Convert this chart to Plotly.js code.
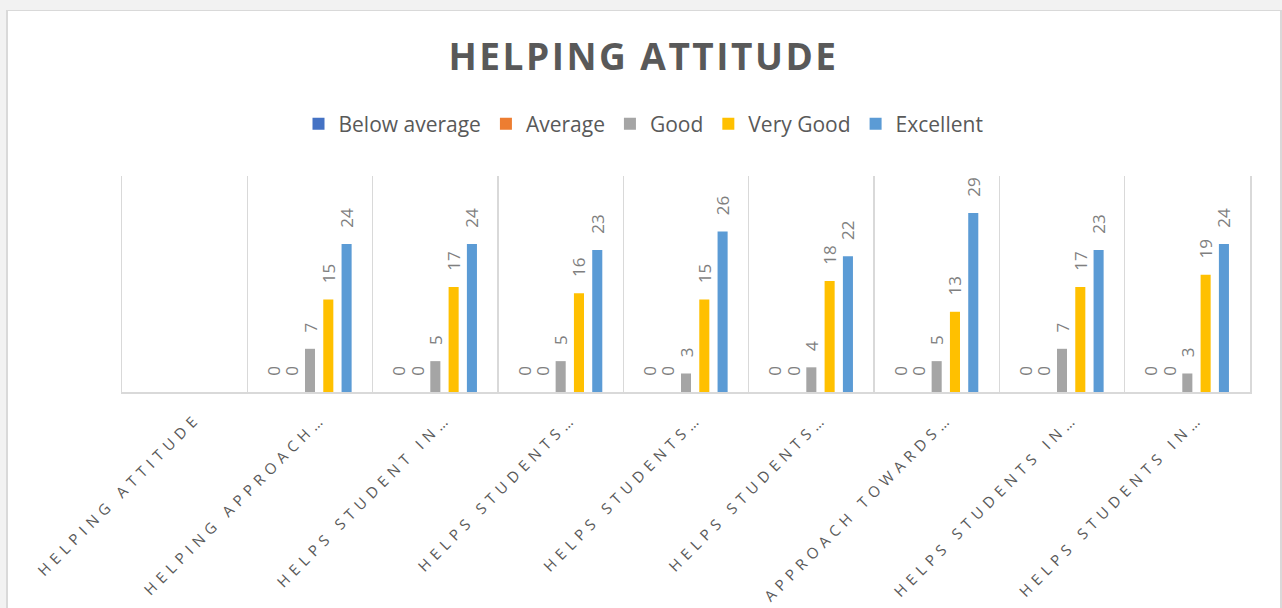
<!DOCTYPE html>
<html>
<head>
<meta charset="utf-8">
<script src="https://cdn.plot.ly/plotly-3.0.1.min.js"></script>
<style>
  html, body { margin: 0; padding: 0; background: #f2f2f2; width: 1282px; height: 608px; overflow: hidden; }
  #frame { position: absolute; left: 6px; top: 10px; width: 1276px; height: 598px;
           background: #ffffff; border-left: 2px solid #d9d9d9; border-top: 1px solid #d9d9d9;
           border-right: 2px solid #d9d9d9; box-sizing: border-box; }
  #chart { width: 1271px; height: 597px; }
  .xtick text { letter-spacing: 5.5px; }
  .gtitle { letter-spacing: 2.5px; }
</style>
</head>
<body>
<div id="frame"><div id="chart"></div></div>
<script>
const categories = [
  "HELPING ATTITUDE",
  "HELPING APPROACH…",
  "HELPS STUDENT IN…",
  "HELPS STUDENTS…",
  "HELPS STUDENTS…",
  "HELPS STUDENTS…",
  "APPROACH TOWARDS…",
  "HELPS STUDENTS IN…",
  "HELPS STUDENTS IN…"
];
const seriesNames = ["Below average", "Average", "Good", "Very Good", "Excellent"];
const seriesColors = ["#4472C4", "#ED7D31", "#A5A5A5", "#FFC000", "#5B9BD5"];
const belowAverage = [null, 0, 0, 0, 0, 0, 0, 0, 0];
const average      = [null, 0, 0, 0, 0, 0, 0, 0, 0];
const good         = [null, 7, 5, 5, 3, 4, 5, 7, 3];
const veryGood     = [null, 15, 17, 16, 15, 18, 13, 17, 19];
const excellent    = [null, 24, 24, 23, 26, 22, 29, 23, 24];

const seriesValues = [belowAverage, average, good, veryGood, excellent];
// Unique x keys so repeated category labels stay separate
const xKeys = categories.map((c, i) => "c" + i);

const traces = seriesValues.map((vals, k) => ({
  type: "bar",
  name: seriesNames[k],
  x: xKeys,
  y: vals,
  marker: { color: seriesColors[k] },
  texttemplate: "\u00a0\u00a0\u00a0%{y}",
  textposition: "outside",
  textangle: -90,
  constraintext: "none",
  cliponaxis: false,
  textfont: { family: "Open Sans", size: 17, color: "#7f7f7f" },
  hoverinfo: "name+y"
}));

const layout = {
  width: 1271,
  height: 597,
  paper_bgcolor: "#ffffff",
  plot_bgcolor: "#ffffff",
  margin: { l: 114, r: 29, t: 165, b: 216 },
  font: { family: "Open Sans", color: "#595959" },
  title: {
    text: "<b>HELPING ATTITUDE</b>",
    font: { family: "Open Sans", size: 37, color: "#595959" },
    x: 0.5, xref: "container", xanchor: "center",
    y: 1 - 46 / 597, yref: "container", yanchor: "middle"
  },
  legend: {
    orientation: "h",
    x: 0.5, xanchor: "center", xref: "container",
    y: 1 - 113 / 597, yanchor: "middle", yref: "container",
    font: { family: "Open Sans", size: 21, color: "#595959" },
    traceorder: "normal"
  },
  barmode: "group",
  bargap: 0.27,
  bargroupgap: 0.45,
  xaxis: {
    type: "category",
    tickvals: xKeys,
    ticktext: categories,
    tickson: "boundaries",
    showgrid: true,
    gridcolor: "#d9d9d9",
    gridwidth: 1.5,
    showline: true,
    linecolor: "#d9d9d9",
    linewidth: 1.5,
    ticks: "",
    tickangle: -45,
    ticklabelstandoff: 10,
    ticklabelshift: 12,
    tickfont: { family: "Open Sans", size: 15, color: "#595959" },
    fixedrange: true
  },
  yaxis: {
    range: [0, 35],
    showticklabels: false,
    ticks: "",
    showgrid: false,
    zeroline: false,
    showline: true,
    mirror: true,
    linecolor: "#d9d9d9",
    linewidth: 1.5,
    fixedrange: true
  },
  showlegend: true
};

Plotly.newPlot("chart", traces, layout, { displayModeBar: false, staticPlot: true });
</script>
</body>
</html>
